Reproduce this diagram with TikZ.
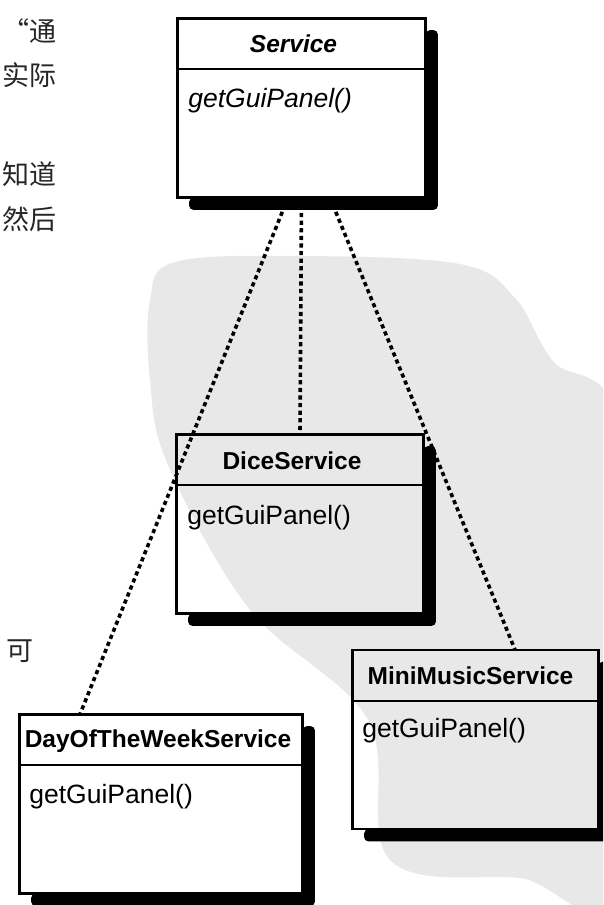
\documentclass[tikz,border=0pt]{standalone}
\usepackage{fontspec}
\setmainfont{Liberation Sans}
\newfontfamily\cjkfont{Noto Sans CJK SC}
\usepackage{tikz}
\usetikzlibrary{calc}

\begin{document}
\begin{tikzpicture}[
    x=1pt, y=-1pt,
    classbox/.style={draw, line width=1.6pt, rectangle, minimum width=#1, minimum height=178pt, inner sep=0pt},
    title/.style={font=\fontsize{24.5}{28}\selectfont\bfseries, inner sep=0pt},
    op/.style={font=\fontsize{26.5}{30}\selectfont, anchor=west, inner sep=0pt},
    realize/.style={line width=3.6pt, dash pattern=on 4.2pt off 3.4pt},
    shadowfill/.style={fill=black, rounded corners=4pt},
    cjk/.style={font=\cjkfont\fontsize{27}{30}\selectfont, text=black!85, anchor=east, inner sep=0pt}
]
    \useasboundingbox (0,0) rectangle (603,905);
    \clip (0,0) rectangle (603,905);

    % Watermark
    \fill[black!9] plot[smooth cycle, tension=0.6] coordinates {(150,300) (175,262) (300,256) (460,264) (515,298) (552,360) (625,445) (625,885) (520,878) (390,860) (368,720) (250,610) (168,465) (150,380)};

    % Page text
    \node[cjk] (line1) at (57,31) {“通};
    \node[cjk] (line2) at (57,75) {实际};
    \node[cjk] (line3) at (57,174) {知道};
    \node[cjk] (line4) at (57,219) {然后};
    \node[cjk] (line5) at (34,651) {可};

    % Classes
    \node[classbox=247pt] (service) at (301.5,108) {};
    \node[classbox=246pt] (dice) at (300,524) {};
    \node[classbox=282pt] (day) at (161,804) {};
    \node[classbox=245pt] (mini) at (475.5,739.5) {};

    % Realizations
    \coordinate (dayend) at ($(day.north)+(-81,0)$);
    \coordinate (miniend) at ($(mini.north)+(39.5,0)$);
    \draw[realize] ($(service.south)+(-13.5,0)$) -- (dayend);
    \draw[realize] (service.south) -- (dice.north);
    \draw[realize] ($(service.south)+(28.5,0)$) -- (miniend);

    % Shadows and dividers
    \foreach \n in {service, dice, day, mini} {
        \fill[shadowfill] ($(\n.north east)+(0,12)$) -- ($(\n.north east)+(12,12)$) -- ($(\n.south east)+(12,12)$)
            -- ($(\n.south west)+(12,12)$) -- ($(\n.south west)+(12,0)$) -- (\n.south east) -- cycle;
        \draw[line width=1.6pt] ($(\n.north west)+(0,51)$) -- ($(\n.north east)+(0,51)$);
    }
    \draw[line width=1.6pt] (service.north west) rectangle (service.south east);
    \draw[line width=1.6pt] (dice.north west) rectangle (dice.south east);
    \draw[line width=1.6pt] (day.north west) rectangle (day.south east);
    \draw[line width=1.6pt] (mini.north west) rectangle (mini.south east);

    % Names and operations
    \node[title, font=\fontsize{24.5}{28}\selectfont\bfseries\itshape] (servicename) at ($(service.north)+(-8,26)$) {Service};
    \node[op, font=\fontsize{26.5}{30}\selectfont\itshape] (serviceop) at ($(service.north west)+(11,82)$) {getGuiPanel()};
    \node[title] (dicename) at ($(dice.north)+(-8,27)$) {DiceService};
    \node[op] (diceop) at ($(dice.north west)+(11,83)$) {getGuiPanel()};
    \node[title] (dayname) at ($(day.north)+(-3,27)$) {DayOfTheWeekService};
    \node[op] (dayop) at ($(day.north west)+(10,82)$) {getGuiPanel()};
    \node[title] (mininame) at ($(mini.north)+(-5,26)$) {MiniMusicService};
    \node[op] (miniop) at ($(mini.north west)+(10,81)$) {getGuiPanel()};

\end{tikzpicture}
\end{document}
